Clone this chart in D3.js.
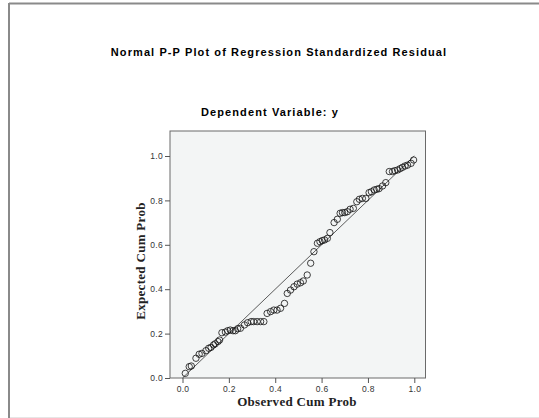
<!DOCTYPE html>
<html>
<head>
<meta charset="utf-8">
<script src="https://cdn.jsdelivr.net/npm/d3@7"></script>
<style>
    body { margin: 0; background: #fff; }
    svg { display: block; }
</style>
</head>
<body>
<div id="chart"></div>
<script>
// observed cumulative probability (x) vs expected cumulative probability (y)
const observed = [0.012, 0.029, 0.038, 0.058, 0.072, 0.084, 0.101, 0.113, 0.123, 0.134,
    0.141, 0.153, 0.160, 0.170, 0.185, 0.195, 0.206, 0.218, 0.228, 0.238,
    0.250, 0.267, 0.281, 0.296, 0.307, 0.322, 0.337, 0.351, 0.365, 0.380,
    0.394, 0.408, 0.423, 0.440, 0.452, 0.466, 0.481, 0.495, 0.509, 0.521,
    0.538, 0.553, 0.567, 0.582, 0.593, 0.603, 0.613, 0.625, 0.636, 0.654,
    0.668, 0.680, 0.690, 0.700, 0.711, 0.723, 0.737, 0.752, 0.763, 0.776,
    0.791, 0.805, 0.815, 0.827, 0.838, 0.848, 0.863, 0.877, 0.892, 0.906,
    0.916, 0.928, 0.939, 0.949, 0.960, 0.971, 0.986, 0.997];
const expected = [0.021, 0.051, 0.054, 0.089, 0.107, 0.111, 0.123, 0.134, 0.138, 0.149,
    0.154, 0.164, 0.171, 0.204, 0.207, 0.213, 0.216, 0.213, 0.213, 0.222,
    0.224, 0.239, 0.249, 0.254, 0.254, 0.254, 0.254, 0.254, 0.291, 0.299,
    0.306, 0.306, 0.314, 0.336, 0.381, 0.396, 0.411, 0.423, 0.429, 0.437,
    0.464, 0.517, 0.569, 0.607, 0.614, 0.619, 0.622, 0.629, 0.655, 0.700,
    0.715, 0.742, 0.745, 0.745, 0.749, 0.760, 0.764, 0.794, 0.805, 0.809,
    0.809, 0.835, 0.839, 0.847, 0.850, 0.853, 0.865, 0.880, 0.930, 0.930,
    0.934, 0.937, 0.943, 0.949, 0.955, 0.959, 0.967, 0.982];
const tickValues = [0.0, 0.2, 0.4, 0.6, 0.8, 1.0];
const diagonal = [0, 1];

const width = 539, height = 418;

const svg = d3.select("#chart").append("svg")
    .attr("width", width)
    .attr("height", height);

// outer window border
svg.append("line").attr("x1", 9).attr("x2", 539).attr("y1", 3.5).attr("y2", 3.5)
    .attr("stroke", "#8a8a8a").attr("stroke-width", 2);
svg.append("line").attr("x1", 9).attr("x2", 9).attr("y1", 3).attr("y2", 418)
    .attr("stroke", "#8a8a8a").attr("stroke-width", 2);
svg.append("line").attr("x1", 10).attr("x2", 539).attr("y1", 417.5).attr("y2", 417.5)
    .attr("stroke", "#e6e6e6").attr("stroke-width", 1);

// titles
svg.append("text")
    .attr("x", 279).attr("y", 56)
    .attr("text-anchor", "middle")
    .style("font", "bold 11px 'Liberation Sans', Arial, sans-serif")
    .style("letter-spacing", "1.1px")
    .text("Normal P-P Plot of Regression Standardized Residual");
svg.append("text")
    .attr("x", 270).attr("y", 116)
    .attr("text-anchor", "middle")
    .style("font", "bold 11px 'Liberation Sans', Arial, sans-serif")
    .style("letter-spacing", "1.1px")
    .text("Dependent Variable: y");

// plot frame
const frame = {left: 170, right: 425.5, top: 131, bottom: 378};

const x = d3.scaleLinear().domain([0, 1]).range([182.5, 414.3]);
const y = d3.scaleLinear().domain([0, 1]).range([378, 156]);

svg.append("rect")
    .attr("x", frame.left).attr("y", frame.top)
    .attr("width", frame.right - frame.left)
    .attr("height", frame.bottom - frame.top)
    .attr("fill", "#f3f5f5")
    .attr("stroke", "#6a6a6a")
    .attr("stroke-width", 1);

// axes
const fmt = d3.format(".1f");
const xAxis = svg.append("g")
    .attr("transform", "translate(0," + frame.bottom + ")")
    .call(d3.axisBottom(x).tickValues(tickValues).tickFormat(fmt).tickSize(5).tickSizeOuter(0));
const yAxis = svg.append("g")
    .attr("transform", "translate(" + frame.left + ",0)")
    .call(d3.axisLeft(y).tickValues(tickValues).tickFormat(fmt).tickSize(5).tickSizeOuter(0));

[xAxis, yAxis].forEach(function (a) {
    a.select(".domain").remove();
    a.selectAll(".tick line").attr("stroke", "#555");
    a.selectAll(".tick text")
        .attr("fill", "#333")
        .style("font", "8.5px 'Liberation Sans', Arial, sans-serif")
        .style("letter-spacing", "0.3px");
});
xAxis.selectAll(".tick text").attr("dy", "0.9em").attr("y", 6);
yAxis.selectAll(".tick text").attr("x", -7);

// axis titles
svg.append("text")
    .attr("x", 297).attr("y", 406)
    .attr("text-anchor", "middle")
    .style("font", "bold 13px 'Liberation Serif', 'Times New Roman', serif")
    .style("letter-spacing", "0.3px")
    .attr("fill", "#222")
    .text("Observed Cum Prob");
svg.append("text")
    .attr("transform", "translate(145,261) rotate(-90)")
    .attr("text-anchor", "middle")
    .style("font", "bold 13px 'Liberation Serif', 'Times New Roman', serif")
    .style("letter-spacing", "0.3px")
    .attr("fill", "#222")
    .text("Expected Cum Prob");

// reference diagonal
svg.append("line")
    .attr("x1", x(diagonal[0])).attr("y1", y(diagonal[0]))
    .attr("x2", x(diagonal[1])).attr("y2", y(diagonal[1]))
    .attr("stroke", "#333")
    .attr("stroke-width", 0.8);

// points
svg.append("g")
    .selectAll("circle")
    .data(observed.map(function (d, i) { return [d, expected[i]]; }))
    .enter()
    .append("circle")
    .attr("cx", function (d) { return x(d[0]); })
    .attr("cy", function (d) { return y(d[1]); })
    .attr("r", 3.2)
    .attr("fill", "none")
    .attr("stroke", "#111")
    .attr("stroke-width", 0.8);
</script>
</body>
</html>
